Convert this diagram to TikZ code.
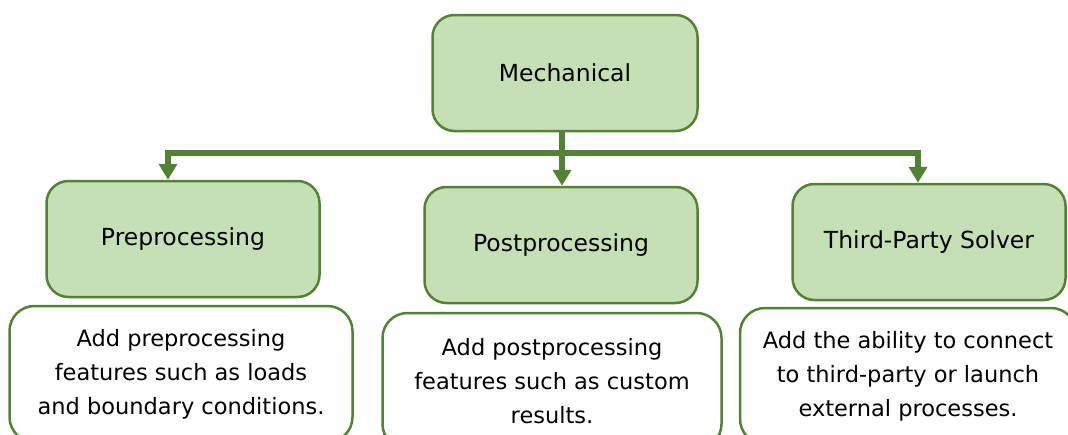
\documentclass[tikz,border=0pt]{standalone}
\usepackage{fontspec}
\setmainfont{DejaVu Sans}
\usetikzlibrary{positioning, arrows.meta}
\definecolor{leafgreen}{HTML}{C5E0B4}
\definecolor{darkgreen}{HTML}{548235}
\tikzset{
x=1pt, y=-1pt, % one unit is one pixel, y runs downwards
feature/.style={draw=darkgreen, line width=2.5pt, fill=leafgreen, rounded corners=22pt, minimum width=273pt, minimum height=116pt, font=\fontsize{23.5}{34}\selectfont}, % green module boxes
note/.style={draw=darkgreen, line width=2.5pt, fill=white, rounded corners=25pt, minimum height=136pt, align=center, font=\fontsize{22.5}{34}\selectfont}, % white description boxes
bus/.style={draw=darkgreen, line width=6pt}, % thick connector lines
>={Triangle[width=18pt, length=16pt]}, % filled arrow heads
}

\begin{document}
\begin{tikzpicture}
    \clip (0,0) rectangle (1068,434);
    \node[feature, minimum width=265pt] (mech) at (565,73) {Mechanical};
    \node[feature] (pre) at (183,239) {Preprocessing};
    \node[feature] (post) at (561,245) {Postprocessing};
    \node[feature] (solver) at (929,242) {Third-Party Solver};
    \node[note, minimum width=343pt] (prenote) at (181,374) {Add preprocessing\\features such as loads\\and boundary conditions.};
    \node[note, minimum width=339pt] (postnote) at (552,381) {Add postprocessing\\features such as custom\\results.};
    \node[note, minimum width=336pt] (solvernote) at (908,376) {Add the ability to connect\\to third-party or launch\\external processes.};
    \coordinate (split) at (562,153);
    \coordinate (busL) at (168,153);
    \coordinate (busR) at (918,153);
    \draw[bus] (split |- mech.south) -- (split);
    \draw[bus, line cap=rect] (busL) -- (busR);
    \draw[bus, ->] (busL) -- (busL |- pre.north);
    \draw[bus, ->] (split) -- (split |- post.north);
    \draw[bus, ->] (busR) -- (busR |- solver.north);
\end{tikzpicture}
\end{document}
